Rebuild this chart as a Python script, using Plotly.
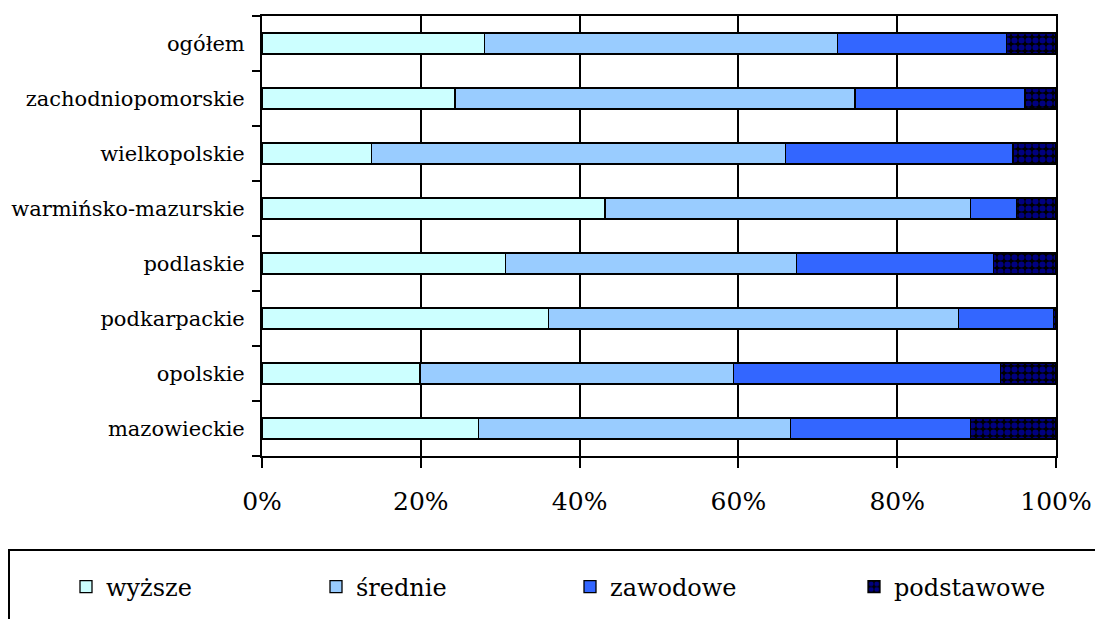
import plotly.graph_objects as go

# Regions, listed bottom to top as they appear on the category axis
regions = [
    "mazowieckie",
    "opolskie",
    "podkarpackie",
    "podlaskie",
    "warmińsko-mazurskie",
    "wielkopolskie",
    "zachodniopomorskie",
    "ogółem",
]

# Share of each education level (%), same order as regions
wyzsze = [27.3, 19.9, 36.1, 30.7, 43.2, 13.8, 24.3, 28.0]
srednie = [39.3, 39.5, 51.6, 36.6, 46.0, 52.1, 50.4, 44.5]
zawodowe = [22.6, 33.6, 12.0, 24.8, 5.8, 28.7, 21.4, 21.3]
podstawowe = [10.8, 7.0, 0.3, 7.9, 5.0, 5.4, 3.9, 6.2]

x_ticks = [0, 20, 40, 60, 80, 100]
x_tick_labels = ["0%", "20%", "40%", "60%", "80%", "100%"]

FONT = "DejaVu Serif"
W, H = 1095, 619

series = [
    ("wyższe", wyzsze, "#CCFFFF", None, "legend"),
    ("średnie", srednie, "#99CCFF", None, "legend2"),
    ("zawodowe", zawodowe, "#3366FF", None, "legend3"),
    ("podstawowe", podstawowe, "#000000",
     dict(shape=".", fgcolor="#0000FF", size=7, solidity=0.6, fillmode="overlay"),
     "legend4"),
]

fig = go.Figure()
for name, vals, color, pattern, leg in series:
    marker = dict(color=color, line=dict(color="#000000", width=1.3))
    if pattern:
        marker["pattern"] = pattern
    fig.add_trace(go.Bar(
        name=name, y=regions, x=vals, orientation="h",
        marker=marker, legend=leg, hoverinfo="x+y+name",
    ))

# Legend entries laid out in a single row inside the framed box
legend_centers = [88, 338, 592, 876]
legend_common = dict(
    orientation="h", xref="container", yref="container",
    yanchor="middle", y=1 - 587 / H, xanchor="left",
    font=dict(family=FONT, size=24, color="#000000"),
    bgcolor="rgba(0,0,0,0)", borderwidth=0, itemclick=False,
)
legend_layout = {}
for key, cx in zip(["legend", "legend2", "legend3", "legend4"], legend_centers):
    legend_layout[key] = dict(legend_common, x=(cx - 22) / W)

ml, mr, mt, mb = 262, 39, 16, 163
pw, ph = W - ml - mr, H - mt - mb

fig.update_layout(
    width=W, height=H,
    margin=dict(l=ml, r=mr, t=mt, b=mb, pad=0, autoexpand=False),
    paper_bgcolor="white", plot_bgcolor="white",
    barmode="stack", bargap=0.62,
    showlegend=True,
    font=dict(family=FONT, color="#000000"),
    xaxis=dict(
        range=[0, 100], tickvals=x_ticks, ticktext=x_tick_labels,
        showgrid=True, gridcolor="#000000", gridwidth=1.5,
        showline=True, linecolor="#000000", linewidth=2, mirror=True,
        ticks="outside", ticklen=10, tickwidth=2, tickcolor="#000000",
        tickfont=dict(family=FONT, size=25, color="#000000"),
        ticklabelstandoff=12, zeroline=False, fixedrange=True, automargin=False,
    ),
    yaxis=dict(
        type="category", categoryorder="array", categoryarray=regions,
        showgrid=False, tickson="boundaries",
        showline=True, linecolor="#000000", linewidth=2, mirror=True,
        ticks="outside", ticklen=8, tickwidth=2, tickcolor="#000000",
        tickfont=dict(family=FONT, size=21, color="#000000"),
        ticklabelstandoff=11, fixedrange=True, automargin=False,
    ),
    shapes=[dict(
        type="rect", xref="paper", yref="paper",
        x0=(9 - ml) / pw, x1=(W + 20 - ml) / pw,
        y0=(H - mb - (H + 20)) / ph, y1=(H - mb - 550) / ph,
        line=dict(color="#000000", width=2), fillcolor="rgba(0,0,0,0)",
        layer="above",
    )],
    **legend_layout,
)

fig.write_html("out.html")
